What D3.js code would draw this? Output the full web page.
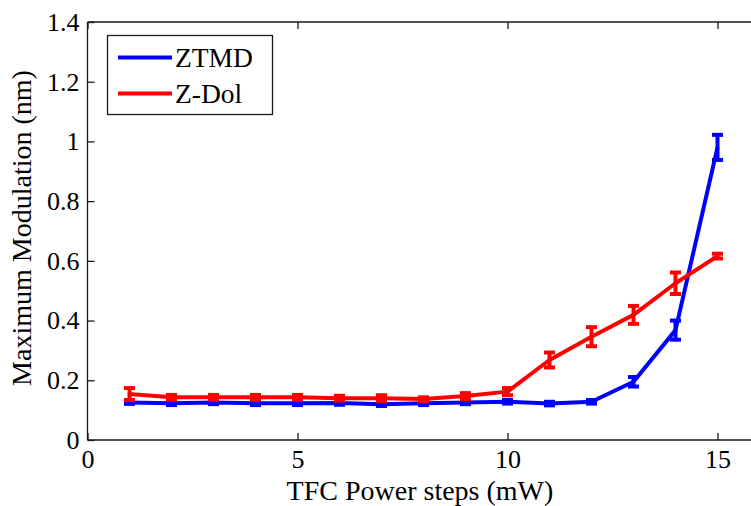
<!DOCTYPE html>
<html>
<head>
<meta charset="utf-8">
<script src="https://cdn.jsdelivr.net/npm/d3@7"></script>
<style>
  html, body { margin: 0; padding: 0; background: #fff; }
  svg { display: block; }
</style>
</head>
<body>
<svg id="chart" width="751" height="506"></svg>
<script>
// TFC power steps (mW)
const steps = [1, 2, 3, 4, 5, 6, 7, 8, 9, 10, 11, 12, 13, 14, 15];

// Maximum modulation (nm) and error half-widths per series
const ztmdValues = [0.126, 0.123, 0.126, 0.123, 0.123, 0.124, 0.120, 0.123, 0.126, 0.128, 0.122, 0.128, 0.195, 0.368, 0.980];
const ztmdErrors = [0.005, 0.006, 0.006, 0.006, 0.006, 0.006, 0.006, 0.006, 0.006, 0.006, 0.006, 0.006, 0.016, 0.032, 0.042];
const zdolValues = [0.154, 0.143, 0.143, 0.143, 0.143, 0.140, 0.140, 0.137, 0.147, 0.162, 0.268, 0.346, 0.419, 0.525, 0.616];
const zdolErrors = [0.020, 0.008, 0.008, 0.008, 0.008, 0.008, 0.010, 0.006, 0.010, 0.012, 0.025, 0.032, 0.030, 0.036, 0.008];

const xTicks = [0, 5, 10, 15];
const yTicks = [0, 0.2, 0.4, 0.6, 0.8, 1, 1.2, 1.4];
const seriesNames = ["ZTMD", "Z-Dol"];
const seriesColors = ["#0000ff", "#ff0000"];

const FONT = "Liberation Serif, DejaVu Serif, Tinos, Times New Roman, serif";
const FS_TICK = 26;
const FS_TITLE = 28;
const FS_LEGEND = 27.5;

const svg = d3.select("#chart");
const W = 751;
const m = { left: 87.5, right: 759.5, top: 22, bottom: 440 };

const x = d3.scaleLinear().domain([0, 16]).range([m.left, m.right]);
const y = d3.scaleLinear().domain([0, 1.4]).range([m.bottom, m.top]);

// axes frame (right edge runs off the canvas)
const frame = svg.append("g").attr("stroke", "#1a1a1a").attr("stroke-width", 1.3).attr("fill", "none");
frame.append("line").attr("x1", m.left).attr("x2", W + 10).attr("y1", m.bottom).attr("y2", m.bottom);
frame.append("line").attr("x1", m.left).attr("x2", W + 10).attr("y1", m.top).attr("y2", m.top);
frame.append("line").attr("x1", m.left).attr("x2", m.left).attr("y1", m.top).attr("y2", m.bottom);

// bottom axis: inward ticks, labels below
const xAxis = d3.axisBottom(x).tickValues(xTicks).tickSize(-7).tickPadding(10).tickFormat(d3.format("d"));
const gx = svg.append("g").attr("transform", `translate(0,${m.bottom})`).call(xAxis);
gx.select(".domain").remove();
gx.selectAll(".tick line").attr("stroke", "#1a1a1a").attr("stroke-width", 1.3);
gx.selectAll(".tick text").attr("y", 28).attr("dy", null).attr("fill", "#000")
  .style("font-family", FONT).style("font-size", FS_TICK + "px");

// top mirror ticks
const gxt = svg.append("g").attr("transform", `translate(0,${m.top})`)
  .call(d3.axisTop(x).tickValues(xTicks).tickSize(-7).tickFormat(""));
gxt.select(".domain").remove();
gxt.selectAll(".tick line").attr("stroke", "#1a1a1a").attr("stroke-width", 1.3);

// left axis
const yAxis = d3.axisLeft(y).tickValues(yTicks).tickSize(-7).tickPadding(8).tickFormat(d3.format("~g"));
const gy = svg.append("g").attr("transform", `translate(${m.left},0)`).call(yAxis);
gy.select(".domain").remove();
gy.selectAll(".tick line").attr("stroke", "#1a1a1a").attr("stroke-width", 1.3);
gy.selectAll(".tick text").attr("fill", "#000")
  .style("font-family", FONT).style("font-size", FS_TICK + "px");

// axis titles
svg.append("text")
  .attr("x", 420).attr("y", 500)
  .attr("text-anchor", "middle")
  .style("font-family", FONT).style("font-size", FS_TITLE + "px")
  .text("TFC Power steps (mW)");
svg.append("text")
  .attr("transform", `translate(31,228) rotate(-90)`)
  .attr("text-anchor", "middle")
  .style("font-family", FONT).style("font-size", FS_TITLE + "px")
  .text("Maximum Modulation (nm)");

// series with error bars
const series = [
  { name: seriesNames[0], color: seriesColors[0], vals: ztmdValues, errs: ztmdErrors },
  { name: seriesNames[1], color: seriesColors[1], vals: zdolValues, errs: zdolErrors }
];

const line = d3.line().x(d => x(d[0])).y(d => y(d[1]));
const capHalf = 5.5;

series.forEach(s => {
  const pts = steps.map((st, i) => [st, s.vals[i], s.errs[i]]);
  const g = svg.append("g");
  g.append("path").datum(pts)
    .attr("d", line).attr("fill", "none")
    .attr("stroke", s.color).attr("stroke-width", 4).attr("stroke-linejoin", "round");
  const eb = g.selectAll("g.eb").data(pts).join("g").attr("class", "eb")
    .attr("stroke", s.color).attr("stroke-width", 4).attr("fill", "none");
  eb.append("line")
    .attr("x1", d => x(d[0])).attr("x2", d => x(d[0]))
    .attr("y1", d => y(d[1] - d[2])).attr("y2", d => y(d[1] + d[2]));
  eb.append("line")
    .attr("x1", d => x(d[0]) - capHalf).attr("x2", d => x(d[0]) + capHalf)
    .attr("y1", d => y(d[1] + d[2])).attr("y2", d => y(d[1] + d[2]));
  eb.append("line")
    .attr("x1", d => x(d[0]) - capHalf).attr("x2", d => x(d[0]) + capHalf)
    .attr("y1", d => y(d[1] - d[2])).attr("y2", d => y(d[1] - d[2]));
});

// legend
const lg = svg.append("g");
lg.append("rect").attr("x", 107.5).attr("y", 35.5).attr("width", 165).attr("height", 79)
  .attr("fill", "#fff").attr("stroke", "#1a1a1a").attr("stroke-width", 1.3);
series.forEach((s, i) => {
  const ly = 57.5 + i * 36;
  lg.append("line").attr("x1", 118).attr("x2", 172).attr("y1", ly).attr("y2", ly)
    .attr("stroke", s.color).attr("stroke-width", 4);
  lg.append("text").attr("x", 175).attr("y", ly + 9.5)
    .style("font-family", FONT).style("font-size", FS_LEGEND + "px").attr("fill", "#000").text(s.name);
});
</script>
</body>
</html>
